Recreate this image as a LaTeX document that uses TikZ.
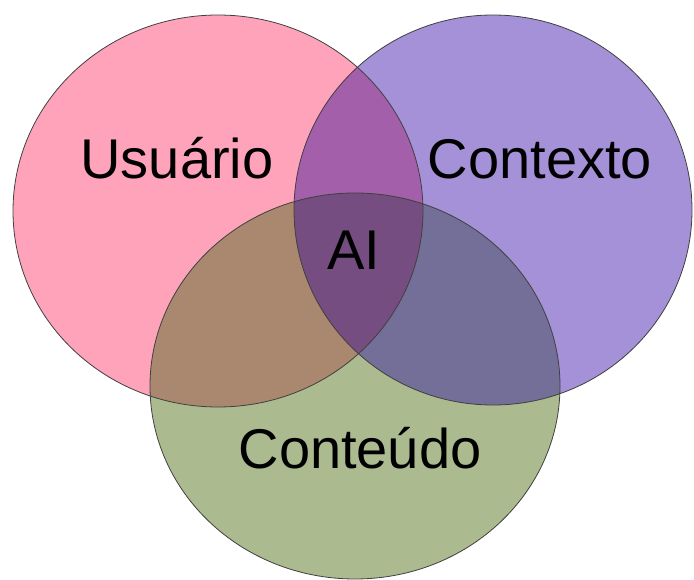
\documentclass[tikz,border=0pt]{standalone}
\usepackage{fontspec}
\setmainfont{Liberation Sans}

\definecolor{usuario}{HTML}{FFA3BB}
\definecolor{contexto}{HTML}{A591D8}
\definecolor{conteudo}{HTML}{ABBA8F}
\definecolor{usuctx}{HTML}{A35FAA}
\definecolor{usucont}{HTML}{AA8870}
\definecolor{ctxcont}{HTML}{746F98}
\definecolor{todos}{HTML}{754D80}

\tikzstyle{label}=[anchor=base, inner sep=0,
                   font=\fontsize{56}{60}\selectfont]
\tikzstyle{border}=[draw=black!75, line width=0.8pt]

% the three sets
\def\usuariopath{(218,211) ellipse [x radius=205pt, y radius=196pt]}
\def\contextopath{(493,210) ellipse [x radius=199pt, y radius=195pt]}
\def\conteudopath{(355,386) ellipse [x radius=205pt, y radius=193pt]}

\begin{document}
\begin{tikzpicture}[x=1pt, y=-1pt]
  \useasboundingbox (0,0) rectangle (694,580);

  %%%%%%%%%%%%%%%%%%%%%%%%%%%%%%
  % fills
  \fill[usuario] \usuariopath;
  \fill[contexto] \contextopath;
  \fill[conteudo] \conteudopath;

  % pairwise overlaps
  \begin{scope}
    \clip \usuariopath;
    \fill[usuctx] \contextopath;
    \fill[usucont] \conteudopath;
  \end{scope}
  \begin{scope}
    \clip \contextopath;
    \fill[ctxcont] \conteudopath;
  \end{scope}

  % all three
  \begin{scope}
    \clip \usuariopath;
    \clip \contextopath;
    \fill[todos] \conteudopath;
  \end{scope}

  %%%%%%%%%%%%%%%%%%%%%%%%%%%%%%
  % outlines
  \path[border] \usuariopath;
  \path[border] \contextopath;
  \path[border] \conteudopath;

  %%%%%%%%%%%%%%%%%%%%%%%%%%%%%%
  % labels
  \node (usu) at (177, 179) [label] {Usuário};
  \node (ctx) at (540, 179) [label] {Contexto};
  \node (ai) at (354, 270) [label] {AI};
  \node (cont) at (360, 468) [label] {Conteúdo};

\end{tikzpicture}
\end{document}
